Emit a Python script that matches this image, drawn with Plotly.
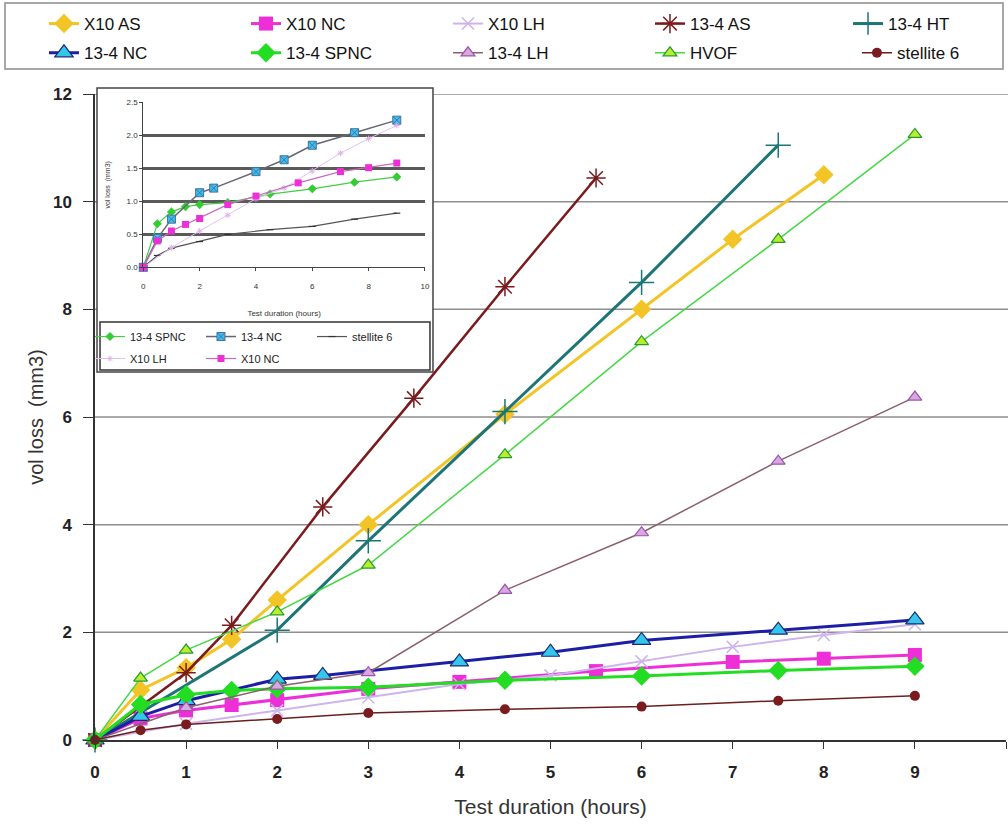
import plotly.graph_objects as go

# ---------------- data ----------------
x10as_x = [0, 0.5, 1, 1.5, 2, 3, 4.5, 6, 7, 8]
x10as_y = [0, 0.93, 1.34, 1.87, 2.6, 4.0, 6.05, 8.0, 9.3, 10.5]

x10nc_x = [0, 0.5, 1, 1.5, 2, 3, 4, 5.5, 7, 8, 9]
x10nc_y = [0, 0.4, 0.55, 0.65, 0.74, 0.95, 1.08, 1.28, 1.45, 1.51, 1.58]

x10lh_x = [0, 1, 2, 3, 4, 5, 6, 7, 8, 9]
x10lh_y = [0, 0.3, 0.55, 0.79, 1.04, 1.2, 1.46, 1.73, 1.95, 2.15]

as134_x = [0, 1, 1.5, 2.5, 3.5, 4.5, 5.5]
as134_y = [0, 1.25, 2.13, 4.33, 6.35, 8.42, 10.44]

ht134_x = [0, 2, 3, 4.5, 6, 7.5]
ht134_y = [0, 2.04, 3.7, 6.1, 8.5, 11.05]

nc134_x = [0, 0.5, 1, 2, 2.5, 4, 5, 6, 7.5, 9]
nc134_y = [0, 0.44, 0.73, 1.13, 1.2, 1.45, 1.63, 1.85, 2.04, 2.23]

spnc134_x = [0, 0.5, 1, 1.5, 2, 3, 4.5, 6, 7.5, 9]
spnc134_y = [0, 0.66, 0.84, 0.92, 0.95, 0.98, 1.11, 1.19, 1.29, 1.37]

lh134_x = [0, 1, 2, 3, 4.5, 6, 7.5, 9]
lh134_y = [0, 0.6, 1.0, 1.25, 2.78, 3.85, 5.18, 6.37]

hvof_x = [0, 0.5, 1, 2, 3, 4.5, 6, 7.5, 9]
hvof_y = [0, 1.15, 1.67, 2.38, 3.25, 5.3, 7.4, 9.3, 11.25]

st6_x = [0, 0.5, 1, 2, 3, 4.5, 6, 7.5, 9]
st6_y = [0, 0.18, 0.29, 0.39, 0.5, 0.57, 0.62, 0.73, 0.82]

main_yticks = [0, 2, 4, 6, 8, 10, 12]
main_xticks = [0, 1, 2, 3, 4, 5, 6, 7, 8, 9, 10]
inset_yticks = [0.0, 0.5, 1.0, 1.5, 2.0, 2.5]
inset_xticks = [0, 2, 4, 6, 8, 10]

FONT = "Liberation Sans"
NARROW = "Liberation Sans Narrow, Liberation Sans, Arial"

fig = go.Figure()

def main_trace(name, xs, ys, lc, lw, sym, ms, mc, mlc=None, mlw=0, legend="legend"):
    fig.add_trace(go.Scatter(
        x=xs, y=ys, name=name, mode="lines+markers",
        line=dict(color=lc, width=lw),
        marker=dict(symbol=sym, size=ms, color=mc,
                    line=dict(color=mlc if mlc else mc, width=mlw)),
        cliponaxis=False, legend=legend))

# row 1 of main legend
main_trace("X10 AS", x10as_x, x10as_y, "#F3C425", 3, "diamond", 15, "#F3C425")
main_trace("X10 NC", x10nc_x, x10nc_y, "#EE2FD8", 3, "square", 14, "#EE2FD8")
main_trace("X10 LH", x10lh_x, x10lh_y, "#CDB4EE", 2, "x-thin-open", 12, "#CDB4EE", "#CDB4EE", 1.5)
main_trace("13-4 AS", as134_x, as134_y, "#7A1B1E", 2.5, "asterisk-open", 16, "#7A1B1E", "#7A1B1E", 1.5)
main_trace("13-4 HT", ht134_x, ht134_y, "#1E7575", 3, "cross-thin-open", 18, "#1E7575", "#1E7575", 1.5, "legend5")
# row 2 of main legend
main_trace("13-4 NC", nc134_x, nc134_y, "#1C1FA6", 3, "triangle-up", 16, "#35C6EC", "#1A2A70", 1.2, "legend4")
main_trace("13-4 SPNC", spnc134_x, spnc134_y, "#22DD22", 3, "diamond", 15, "#22DD22", None, 0, "legend4")
main_trace("13-4 LH", lh134_x, lh134_y, "#8A6070", 1.5, "triangle-up", 12, "#D9A8E2", "#9A55A8", 1.2, "legend4")
main_trace("HVOF", hvof_x, hvof_y, "#44D844", 1.5, "triangle-up", 12, "#B8EE30", "#2A9A2A", 1.2, "legend4")
main_trace("stellite 6", st6_x, st6_y, "#6B1E1E", 1.5, "circle", 10, "#7A1B1E", None, 0, "legend6")

# ---------------- inset ----------------
def inset_trace(name, xs, ys, lc, lw, sym, ms, mc, mlc, mlw, legend):
    fig.add_trace(go.Scatter(
        x=xs, y=ys, name=name, mode="lines+markers", xaxis="x2", yaxis="y2",
        line=dict(color=lc, width=lw),
        marker=dict(symbol=sym, size=ms, color=mc, line=dict(color=mlc, width=mlw)),
        cliponaxis=False, legend=legend))

inset_trace("13-4 SPNC", spnc134_x, spnc134_y, "#44CC44", 1.2, "diamond", 7, "#33CC33", "#33CC33", 0, "legend2")
inset_trace("13-4 NC", nc134_x, nc134_y, "#666677", 1.5, "square-x", 8, "#35C4F0", "#4A6FA0", 1, "legend2")
inset_trace("stellite 6", st6_x, st6_y, "#555555", 1.2, "line-ew-open", 5, "#333333", "#333333", 1.2, "legend2")
inset_trace("X10 LH", x10lh_x, x10lh_y, "#E2C2EC", 1, "asterisk-open", 5, "#E0B0E8", "#E0B0E8", 1, "legend3")
inset_trace("X10 NC", x10nc_x, x10nc_y, "#C86AC0", 1.2, "square", 7, "#EE2FD8", "#EE2FD8", 0, "legend3")

# ---------------- shapes: main grid, inset box, legend boxes ----------------
shapes = []
for v in main_yticks[1:]:
    shapes.append(dict(type="line", xref="paper", yref="y", x0=0, x1=1.003, y0=v, y1=v,
                       line=dict(color="#8E8E8E", width=1.5), layer="below"))
# inset white panel with frame (covers main gridlines)
shapes.append(dict(type="rect", xref="paper", yref="paper", x0=0.0022, x1=0.371, y0=0.5697, y1=1.0093,
                   fillcolor="white", line=dict(color="#444444", width=1.5), layer="below"))
# inset legend frame
shapes.append(dict(type="rect", xref="paper", yref="paper", x0=0.0055, x1=0.3677, y0=0.5728, y1=0.647,
                   fillcolor="rgba(0,0,0,0)", line=dict(color="#333333", width=1.5), layer="below"))
# main legend frame
shapes.append(dict(type="rect", xref="paper", yref="paper", x0=-0.0988, x1=0.9967, y0=1.0387, y1=1.1409,
                   fillcolor="rgba(0,0,0,0)", line=dict(color="#8A8A8A", width=1.5), layer="below"))

leg_main = dict(orientation="h", bgcolor="rgba(0,0,0,0)", borderwidth=0,
                xanchor="left", yanchor="top", entrywidthmode="pixels", entrywidth=157,
                font=dict(family=NARROW, size=17, color="#111111"))
leg_inset = dict(orientation="h", bgcolor="rgba(0,0,0,0)", borderwidth=0,
                 xanchor="left", yanchor="top", entrywidthmode="pixels", entrywidth=66,
                 font=dict(family=FONT, size=11, color="#222222"))

fig.update_layout(
    width=1008, height=832,
    margin=dict(l=95, r=2, t=94, b=92, autoexpand=False),
    paper_bgcolor="white", plot_bgcolor="rgba(0,0,0,0)",
    shapes=shapes,
    showlegend=True,
    legend=dict(leg_main, x=-0.056, y=1.1362),
    legend5=dict(leg_main, x=0.8266, y=1.1362),
    legend4=dict(leg_main, x=-0.056, y=1.0909),
    legend6=dict(leg_main, x=0.8364, y=1.0909),
    legend2=dict(leg_inset, x=-0.0055, y=0.647),
    legend3=dict(leg_inset, x=-0.0055, y=0.613),
    xaxis=dict(range=[0, 10], tickvals=main_xticks, showgrid=False, zeroline=False,
               showline=True, linecolor="#333333", linewidth=1.5,
               ticks="outside", ticklen=7, tickcolor="#333333", ticklabelstandoff=9,
               tickfont=dict(family=FONT, size=17, color="#222222", weight="bold"),
               title=dict(text="Test duration (hours)", standoff=18,
                          font=dict(family=NARROW, size=21, color="#333333"))),
    yaxis=dict(range=[0, 12], tickvals=main_yticks, showgrid=False, zeroline=False,
               showline=True, linecolor="#333333", linewidth=1.5,
               ticks="outside", ticklen=10, tickcolor="#333333", ticklabelstandoff=8,
               tickfont=dict(family=FONT, size=17, color="#222222", weight="bold"),
               title=dict(text="vol loss  (mm3)", standoff=4,
                          font=dict(family=FONT, size=20, color="#333333"))),
    xaxis2=dict(domain=[0.053, 0.3622], anchor="y2", range=[0, 10], tickvals=inset_xticks,
                showgrid=False, zeroline=False, showline=True, linecolor="#444444", linewidth=1.2,
                ticks="outside", ticklen=3, tickcolor="#444444", ticklabelstandoff=8,
                tickfont=dict(family=FONT, size=8, color="#333333"),
                title=dict(text="Test duration (hours)", standoff=20,
                           font=dict(family=FONT, size=8, color="#333333"))),
    yaxis2=dict(domain=[0.7317, 0.9871], anchor="x2", range=[0, 2.5], tickvals=inset_yticks,
                tickformat=".1f", showgrid=True, gridcolor="#5A5A5A", gridwidth=2.5,
                zeroline=False, showline=True, linecolor="#444444", linewidth=1.2,
                ticks="outside", ticklen=3, tickcolor="#444444",
                tickfont=dict(family=FONT, size=8, color="#333333"),
                title=dict(text="vol loss  (mm3)", standoff=14,
                           font=dict(family=FONT, size=7, color="#333333"))),
)

fig.write_html("out.html", config={"displayModeBar": False},
               post_script="document.body.style.margin='0';")
